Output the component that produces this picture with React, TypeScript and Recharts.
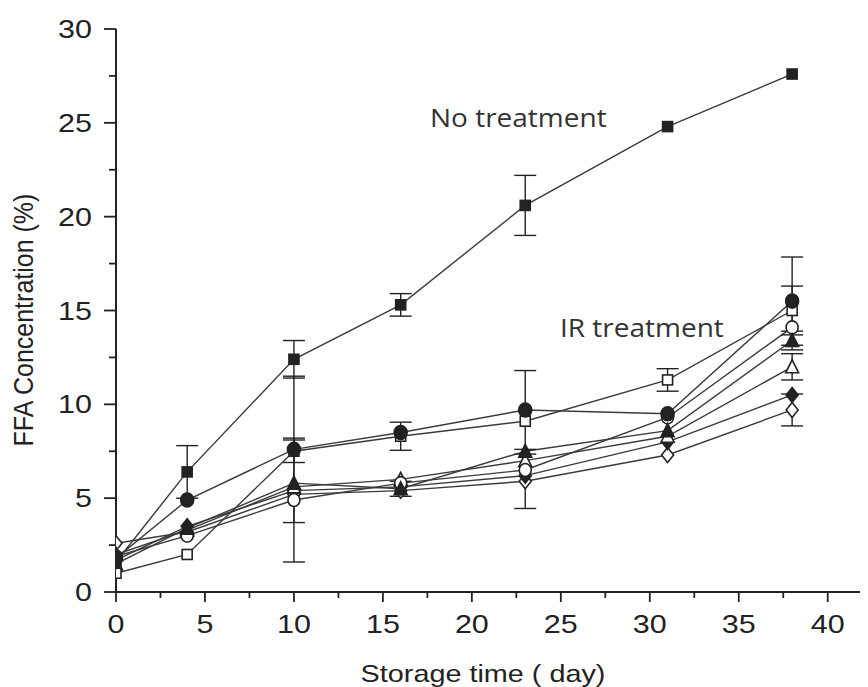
import React from 'react';
import { LineChart, Line, XAxis, YAxis, ErrorBar } from 'recharts';

// storage time (day)
const DAYS = [0, 4, 10, 16, 23, 31, 38];

// FFA concentration (%) - no treatment (filled square)
const NO_TREATMENT = [1.6, 6.4, 12.4, 15.3, 20.6, 24.8, 27.6];
const NO_TREATMENT_ERR = [0, 1.4, 1.0, 0.6, 1.6, 0, 0];

// IR treatment groups
const IR_FILLED_CIRCLE = [1.8, 4.9, 7.6, 8.5, 9.7, 9.5, 15.5];
const IR_FILLED_CIRCLE_ERR = [0, 0, 3.9, 0, 2.1, 0, 2.35];
const IR_OPEN_SQUARE = [1.0, 2.0, 7.5, 8.3, 9.1, 11.3, 15.0];
const IR_OPEN_SQUARE_ERR = [0, 0, 0.6, 0.75, 0, 0.6, 1.3];
const IR_FILLED_TRIANGLE = [1.5, 3.4, 5.8, 5.5, 7.5, 8.6, 13.4];
const IR_FILLED_TRIANGLE_ERR = [0, 0, 0, 0.4, 0, 0, 0.5];
const IR_OPEN_CIRCLE = [1.9, 3.0, 4.9, 5.8, 6.5, 9.3, 14.1];
const IR_OPEN_CIRCLE_ERR = [0, 0, 3.3, 0, 0, 0, 0];
const IR_OPEN_TRIANGLE = [2.0, 3.3, 5.6, 6.0, 7.0, 8.3, 12.0];
const IR_OPEN_TRIANGLE_ERR = [0, 0, 0, 0, 0, 0, 0.7];
const IR_FILLED_DIAMOND = [1.7, 3.5, 5.4, 5.6, 6.2, 8.0, 10.5];
const IR_OPEN_DIAMOND = [2.6, 3.2, 5.2, 5.4, 5.9, 7.3, 9.7];
const IR_OPEN_DIAMOND_ERR = [0, 0, 0, 0, 1.45, 0, 0.85];

const X_TICKS = [0, 2.5, 5, 7.5, 10, 12.5, 15, 17.5, 20, 22.5, 25, 27.5, 30, 32.5, 35, 37.5, 40, 42.5];
const Y_TICKS = [0, 2.5, 5, 7.5, 10, 12.5, 15, 17.5, 20, 22.5, 25, 27.5, 30];

const INK = '#222';
const LINE = '#3a3a3a';
const FONT = '"Liberation Sans", Arial, sans-serif';

const data = DAYS.map((day, i) => ({
  day,
  nt: NO_TREATMENT[i],
  ntErr: NO_TREATMENT_ERR[i],
  fc: IR_FILLED_CIRCLE[i],
  fcErr: IR_FILLED_CIRCLE_ERR[i],
  os: IR_OPEN_SQUARE[i],
  osErr: IR_OPEN_SQUARE_ERR[i],
  ft: IR_FILLED_TRIANGLE[i],
  ftErr: IR_FILLED_TRIANGLE_ERR[i],
  oc: IR_OPEN_CIRCLE[i],
  ocErr: IR_OPEN_CIRCLE_ERR[i],
  ot: IR_OPEN_TRIANGLE[i],
  otErr: IR_OPEN_TRIANGLE_ERR[i],
  fd: IR_FILLED_DIAMOND[i],
  od: IR_OPEN_DIAMOND[i],
  odErr: IR_OPEN_DIAMOND_ERR[i],
}));

type Shape = 'square' | 'circle' | 'triangle' | 'diamond';

function marker(shape: Shape, filled: boolean, size = 12) {
  return (props: any) => {
    const { cx, cy, index } = props;
    if (cx == null || cy == null) return <g key={index} />;
    const h = size / 2;
    const common = {
      fill: filled ? INK : '#fff',
      stroke: INK,
      strokeWidth: 1.6,
    };
    if (shape === 'square') {
      return <rect key={index} x={cx - h + 0.5} y={cy - h + 0.5} width={size - 1} height={size - 1} {...common} />;
    }
    if (shape === 'circle') {
      return <ellipse key={index} cx={cx} cy={cy} rx={h} ry={h + 0.5} {...common} />;
    }
    if (shape === 'triangle') {
      const pts = `${cx},${cy - h - 1} ${cx + h + 0.5},${cy + h} ${cx - h - 0.5},${cy + h}`;
      return <polygon key={index} points={pts} {...common} />;
    }
    const pts = `${cx},${cy - h - 1.5} ${cx + h},${cy} ${cx},${cy + h + 1.5} ${cx - h},${cy}`;
    return <polygon key={index} points={pts} {...common} />;
  };
}

const XTick = (props: any) => {
  const { x, y, payload } = props;
  const v = payload.value;
  const major = v % 5 === 0;
  return (
    <g>
      <line x1={x} y1={y} x2={x} y2={y + (major ? 10 : 6)} stroke={INK} strokeWidth={1.8} />
      {major && (
        <g transform={`translate(${x},${y + 41})`}>
          <text transform="scale(1.22,1)" textAnchor="middle" fontSize={25} fontFamily={FONT} fill={INK}>
            {v}
          </text>
        </g>
      )}
    </g>
  );
};

const YTick = (props: any) => {
  const { x, y, payload } = props;
  const v = payload.value;
  const major = v % 5 === 0;
  return (
    <g>
      <line x1={x} y1={y} x2={x - (major ? 12 : 7)} y2={y} stroke={INK} strokeWidth={1.8} />
      {major && (
        <g transform={`translate(${x - 24},${y + 9})`}>
          <text transform="scale(1.22,1)" textAnchor="end" fontSize={25} fontFamily={FONT} fill={INK}>
            {v}
          </text>
        </g>
      )}
    </g>
  );
};

export default function App() {
  const lineProps = {
    stroke: LINE,
    strokeWidth: 1.4,
    isAnimationActive: false,
    activeDot: false as const,
    type: 'linear' as const,
  };
  const errProps = { width: 11, stroke: INK, strokeWidth: 1.4 };

  return (
    <div style={{ width: 860, height: 679, background: '#fff', overflow: 'hidden' }}>
      <LineChart width={890} height={679} data={data} margin={{ top: 21, right: 0, bottom: 35, left: 28 }}>
        <XAxis
          dataKey="day"
          type="number"
          domain={[0, 43.95]}
          ticks={X_TICKS}
          interval={0}
          allowDataOverflow
          height={60}
          tickSize={0}
          tickMargin={0}
          tickLine={false}
          tick={<XTick />}
          axisLine={{ stroke: INK, strokeWidth: 2 }}
        />
        <YAxis
          type="number"
          domain={[0, 30]}
          ticks={Y_TICKS}
          interval={0}
          width={80}
          tickSize={0}
          tickMargin={0}
          tickLine={false}
          tick={<YTick />}
          axisLine={{ stroke: INK, strokeWidth: 2 }}
        />

        <Line dataKey="od" {...lineProps} dot={marker('diamond', false, 12)}>
          <ErrorBar dataKey="odErr" {...errProps} />
        </Line>
        <Line dataKey="fd" {...lineProps} dot={marker('diamond', true, 12)} />
        <Line dataKey="ot" {...lineProps} dot={marker('triangle', false, 12)}>
          <ErrorBar dataKey="otErr" {...errProps} />
        </Line>
        <Line dataKey="oc" {...lineProps} dot={marker('circle', false, 12)}>
          <ErrorBar dataKey="ocErr" {...errProps} />
        </Line>
        <Line dataKey="ft" {...lineProps} dot={marker('triangle', true, 12)}>
          <ErrorBar dataKey="ftErr" {...errProps} />
        </Line>
        <Line dataKey="os" {...lineProps} dot={marker('square', false, 11)}>
          <ErrorBar dataKey="osErr" {...errProps} />
        </Line>
        <Line dataKey="fc" {...lineProps} dot={marker('circle', true, 13)}>
          <ErrorBar dataKey="fcErr" {...errProps} />
        </Line>
        <Line dataKey="nt" {...lineProps} dot={marker('square', true, 11)}>
          <ErrorBar dataKey="ntErr" {...errProps} />
        </Line>

        <text
          transform="translate(25,312) rotate(-90) scale(1,1.12)"
          textAnchor="middle"
          fontSize={25}
          fontFamily={FONT}
          fill={INK}
        >
          FFA Concentration (%)
        </text>
        <g transform="translate(475,674) scale(1.2,1)">
          <text textAnchor="middle" fontSize={24} fontFamily={FONT} fill={INK}>
            Storage time ( day)
          </text>
        </g>
        <g transform="translate(422,119) scale(1.12,1)">
          <text fontSize={25} fontFamily='"Open Sans", "Noto Sans", sans-serif' fill="#333">
            No treatment
          </text>
        </g>
        <g transform="translate(552,329) scale(1.12,1)">
          <text fontSize={25} fontFamily='"Open Sans", "Noto Sans", sans-serif' fill="#333">
            IR treatment
          </text>
        </g>
      </LineChart>
    </div>
  );
}
